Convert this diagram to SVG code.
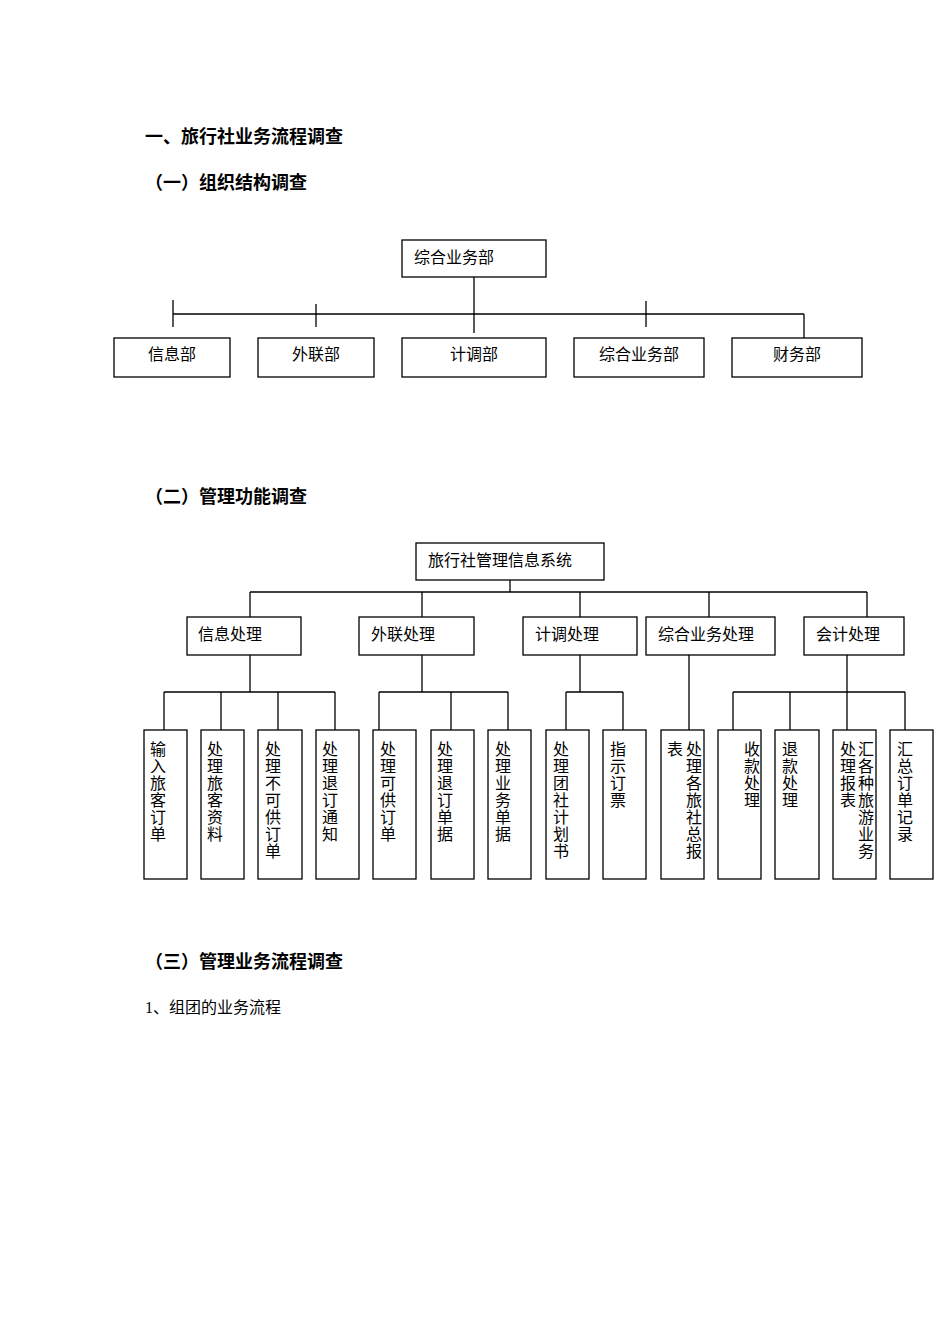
<svg xmlns="http://www.w3.org/2000/svg" width="950" height="1344" viewBox="0 0 950 1344">
<style>
text{font-family:"Liberation Serif","Noto Sans CJK SC",serif;fill:#000}
.h{font-size:18px;font-weight:bold}
.t{font-size:16px}
.v{font-size:16px;text-anchor:middle}
rect{fill:#fff;stroke:#000;stroke-width:1.3}
.c line{stroke:#000;stroke-width:1.3}
</style>
<rect x="0" y="0" width="950" height="1344" style="stroke:none"/>
<text class="h" x="145" y="143">一、旅行社业务流程调查</text>
<text class="h" x="145" y="189">（一）组织结构调查</text>
<text class="h" x="145" y="503">（二）管理功能调查</text>
<text class="h" x="145" y="968">（三）管理业务流程调查</text>
<text class="t" x="145" y="1013">1、组团的业务流程</text>

<g class="c" id="connectors1">
<line x1="474" y1="277" x2="474" y2="333"/>
<line x1="173" y1="314" x2="804" y2="314"/>
<line x1="804" y1="314" x2="804" y2="340"/>
<line x1="173" y1="300" x2="173" y2="327"/>
<line x1="316" y1="304" x2="316" y2="327"/>
<line x1="646" y1="301" x2="646" y2="327"/>
</g>
<g id="o-root"><rect x="402" y="240" width="144" height="37"/><text class="t" x="414" y="263">综合业务部</text></g>
<g id="o1"><rect x="114" y="338" width="116" height="39"/><text class="t" x="172" y="360" text-anchor="middle">信息部</text></g>
<g id="o2"><rect x="258" y="338" width="116" height="39"/><text class="t" x="316" y="360" text-anchor="middle">外联部</text></g>
<g id="o3"><rect x="402" y="338" width="144" height="39"/><text class="t" x="474" y="360" text-anchor="middle">计调部</text></g>
<g id="o4"><rect x="574" y="338" width="130" height="39"/><text class="t" x="639" y="360" text-anchor="middle">综合业务部</text></g>
<g id="o5"><rect x="732" y="338" width="130" height="39"/><text class="t" x="797" y="360" text-anchor="middle">财务部</text></g>

<g class="c" id="connectors2">
<line x1="510" y1="580" x2="510" y2="592"/>
<line x1="250" y1="592" x2="867" y2="592"/>
<line x1="250" y1="592" x2="250" y2="617"/>
<line x1="422" y1="592" x2="422" y2="617"/>
<line x1="580" y1="592" x2="580" y2="617"/>
<line x1="709" y1="592" x2="709" y2="617"/>
<line x1="867" y1="592" x2="867" y2="617"/>
<line x1="250" y1="655" x2="250" y2="692"/>
<line x1="164" y1="692" x2="335" y2="692"/>
<line x1="164" y1="692" x2="164" y2="730"/>
<line x1="221" y1="692" x2="221" y2="730"/>
<line x1="278" y1="692" x2="278" y2="730"/>
<line x1="335" y1="692" x2="335" y2="730"/>
<line x1="422" y1="655" x2="422" y2="692"/>
<line x1="379" y1="692" x2="508" y2="692"/>
<line x1="379" y1="692" x2="379" y2="730"/>
<line x1="451" y1="692" x2="451" y2="730"/>
<line x1="508" y1="692" x2="508" y2="730"/>
<line x1="580" y1="655" x2="580" y2="692"/>
<line x1="566" y1="692" x2="623" y2="692"/>
<line x1="566" y1="692" x2="566" y2="730"/>
<line x1="623" y1="692" x2="623" y2="730"/>
<line x1="689" y1="655" x2="689" y2="730"/>
<line x1="847" y1="655" x2="847" y2="692"/>
<line x1="733" y1="692" x2="905" y2="692"/>
<line x1="733" y1="692" x2="733" y2="730"/>
<line x1="790" y1="692" x2="790" y2="730"/>
<line x1="847" y1="692" x2="847" y2="730"/>
<line x1="905" y1="692" x2="905" y2="730"/>
</g>
<g id="s-root"><rect x="416" y="543" width="188" height="37"/><text class="t" x="428" y="566">旅行社管理信息系统</text></g>
<g id="m1"><rect x="187" y="617" width="114" height="38"/><text class="t" x="198" y="640">信息处理</text></g>
<g id="m2"><rect x="359" y="617" width="115" height="38"/><text class="t" x="371" y="640">外联处理</text></g>
<g id="m3"><rect x="523" y="617" width="114" height="38"/><text class="t" x="535" y="640">计调处理</text></g>
<g id="m4"><rect x="646" y="617" width="129" height="38"/><text class="t" x="658" y="640">综合业务处理</text></g>
<g id="m5"><rect x="804" y="617" width="100" height="38"/><text class="t" x="816" y="640">会计处理</text></g>

<g id="l1"><rect x="144" y="730" width="43" height="149"/><text class="v" x="158" y="755"><tspan x="158">输</tspan><tspan x="158" dy="17">入</tspan><tspan x="158" dy="17">旅</tspan><tspan x="158" dy="17">客</tspan><tspan x="158" dy="17">订</tspan><tspan x="158" dy="17">单</tspan></text></g>
<g id="l2"><rect x="201" y="730" width="43" height="149"/><text class="v" x="215" y="755"><tspan x="215">处</tspan><tspan x="215" dy="17">理</tspan><tspan x="215" dy="17">旅</tspan><tspan x="215" dy="17">客</tspan><tspan x="215" dy="17">资</tspan><tspan x="215" dy="17">料</tspan></text></g>
<g id="l3"><rect x="258" y="730" width="44" height="149"/><text class="v" x="273" y="755"><tspan x="273">处</tspan><tspan x="273" dy="17">理</tspan><tspan x="273" dy="17">不</tspan><tspan x="273" dy="17">可</tspan><tspan x="273" dy="17">供</tspan><tspan x="273" dy="17">订</tspan><tspan x="273" dy="17">单</tspan></text></g>
<g id="l4"><rect x="316" y="730" width="43" height="149"/><text class="v" x="330" y="755"><tspan x="330">处</tspan><tspan x="330" dy="17">理</tspan><tspan x="330" dy="17">退</tspan><tspan x="330" dy="17">订</tspan><tspan x="330" dy="17">通</tspan><tspan x="330" dy="17">知</tspan></text></g>
<g id="l5"><rect x="373" y="730" width="43" height="149"/><text class="v" x="388" y="755"><tspan x="388">处</tspan><tspan x="388" dy="17">理</tspan><tspan x="388" dy="17">可</tspan><tspan x="388" dy="17">供</tspan><tspan x="388" dy="17">订</tspan><tspan x="388" dy="17">单</tspan></text></g>
<g id="l6"><rect x="431" y="730" width="43" height="149"/><text class="v" x="445" y="755"><tspan x="445">处</tspan><tspan x="445" dy="17">理</tspan><tspan x="445" dy="17">退</tspan><tspan x="445" dy="17">订</tspan><tspan x="445" dy="17">单</tspan><tspan x="445" dy="17">据</tspan></text></g>
<g id="l7"><rect x="488" y="730" width="43" height="149"/><text class="v" x="503" y="755"><tspan x="503">处</tspan><tspan x="503" dy="17">理</tspan><tspan x="503" dy="17">业</tspan><tspan x="503" dy="17">务</tspan><tspan x="503" dy="17">单</tspan><tspan x="503" dy="17">据</tspan></text></g>
<g id="l8"><rect x="546" y="730" width="43" height="149"/><text class="v" x="561" y="755"><tspan x="561">处</tspan><tspan x="561" dy="17">理</tspan><tspan x="561" dy="17">团</tspan><tspan x="561" dy="17">社</tspan><tspan x="561" dy="17">计</tspan><tspan x="561" dy="17">划</tspan><tspan x="561" dy="17">书</tspan></text></g>
<g id="l9"><rect x="603" y="730" width="43" height="149"/><text class="v" x="618" y="755"><tspan x="618">指</tspan><tspan x="618" dy="17">示</tspan><tspan x="618" dy="17">订</tspan><tspan x="618" dy="17">票</tspan></text></g>
<g id="l10"><rect x="661" y="730" width="43" height="149"/><text class="v" x="675" y="755">表</text><text class="v" x="694" y="755"><tspan x="694">处</tspan><tspan x="694" dy="17">理</tspan><tspan x="694" dy="17">各</tspan><tspan x="694" dy="17">旅</tspan><tspan x="694" dy="17">社</tspan><tspan x="694" dy="17">总</tspan><tspan x="694" dy="17">报</tspan></text></g>
<g id="l11"><rect x="718" y="730" width="43" height="149"/><text class="v" x="752" y="755"><tspan x="752">收</tspan><tspan x="752" dy="17">款</tspan><tspan x="752" dy="17">处</tspan><tspan x="752" dy="17">理</tspan></text></g>
<g id="l12"><rect x="775" y="730" width="44" height="149"/><text class="v" x="790" y="755"><tspan x="790">退</tspan><tspan x="790" dy="17">款</tspan><tspan x="790" dy="17">处</tspan><tspan x="790" dy="17">理</tspan></text></g>
<g id="l13"><rect x="833" y="730" width="43" height="149"/><text class="v" x="848" y="755"><tspan x="848">处</tspan><tspan x="848" dy="17">理</tspan><tspan x="848" dy="17">报</tspan><tspan x="848" dy="17">表</tspan></text><text class="v" x="866" y="755"><tspan x="866">汇</tspan><tspan x="866" dy="17">各</tspan><tspan x="866" dy="17">种</tspan><tspan x="866" dy="17">旅</tspan><tspan x="866" dy="17">游</tspan><tspan x="866" dy="17">业</tspan><tspan x="866" dy="17">务</tspan></text></g>
<g id="l14"><rect x="890" y="730" width="43" height="149"/><text class="v" x="905" y="755"><tspan x="905">汇</tspan><tspan x="905" dy="17">总</tspan><tspan x="905" dy="17">订</tspan><tspan x="905" dy="17">单</tspan><tspan x="905" dy="17">记</tspan><tspan x="905" dy="17">录</tspan></text></g>
</svg>
